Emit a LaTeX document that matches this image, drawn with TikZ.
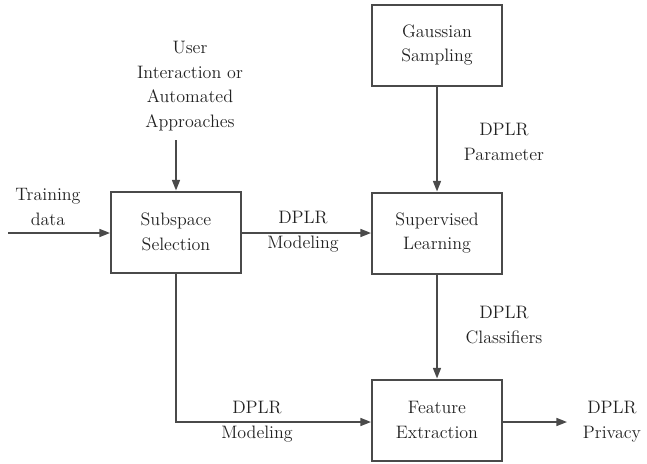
\documentclass[tikz,border=0pt]{standalone}
\usetikzlibrary{arrows.meta}
\definecolor{linegray}{HTML}{4A4A4A}
\definecolor{txt}{HTML}{222222}
\begin{document}
\begin{tikzpicture}[x=0.75pt,y=-0.75pt,
  blk/.style={draw=linegray,line width=1.5pt,minimum width=130*0.75pt,minimum height=81*0.75pt,inner sep=0pt,align=center,text=txt,font=\fontsize{13.5}{18.5}\selectfont},
  lbl/.style={align=center,text=txt,inner sep=0pt,font=\fontsize{13.5}{18.5}\selectfont},
  conn/.style={draw=linegray,line width=1.2pt,-{Triangle[length=8pt,width=6pt]}}]
\useasboundingbox (0,0) rectangle (647,464);
\node[blk] (ss) at (176,232) {Subspace\\Selection};
\node[blk] (sl) at (437,233) {Supervised\\Learning};
\node[blk] (gs) at (437,45) {Gaussian\\Sampling};
\node[blk] (fe) at (437,420) {Feature\\Extraction};
\node[lbl] (user) at (190,86) {User\\Interaction or\\Automated\\Approaches};
\node[lbl] (train) at (48,207) {Training\\data};
\node[lbl] (m1) at (303,232) {DPLR\\Modeling};
\node[lbl] (par) at (504,142) {DPLR\\Parameter};
\node[lbl] (cls) at (504,325) {DPLR\\Classifiers};
\node[lbl] (m2) at (257,422) {DPLR\\Modeling};
\node[lbl] (priv) at (612,422) {DPLR\\Privacy};
\coordinate (tin) at (8,233);
\coordinate (uin) at (176,140);
\coordinate (corner) at (176,422);
\coordinate (pout) at (567,422);
\draw[conn] (tin) -- (tin -| ss.west);
\draw[conn] (uin) -- (ss.north);
\draw[conn] (ss.east |- 0,233) -- (sl.west |- 0,233);
\draw[conn] (gs.south) -- (sl.north);
\draw[conn] (sl.south) -- (fe.north);
\draw[conn] (ss.south) -- (corner) -- (fe.west |- corner);
\draw[conn] (fe.east |- pout) -- (pout);
\end{tikzpicture}
\end{document}
